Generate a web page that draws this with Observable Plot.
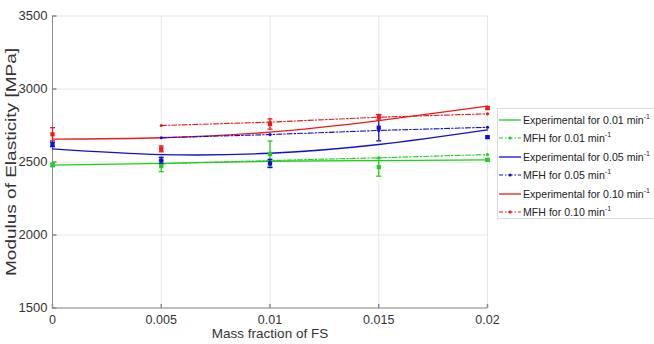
<!DOCTYPE html>
<html>
<head>
<meta charset="utf-8">
<script src="https://cdn.jsdelivr.net/npm/d3@7"></script>
<script src="https://cdn.jsdelivr.net/npm/@observablehq/plot@0.6"></script>
<style>
  html, body { margin: 0; padding: 0; background: #fff; }
  #wrap { position: relative; width: 654px; height: 344px; font-family: "Liberation Sans", Arial, sans-serif; }
  #legend { position: absolute; left: 497px; top: 108px; width: 170px; height: 111px;
            border: 1px solid #dcdcdc; background: #fff; box-sizing: border-box; }
  .row { position: absolute; left: 0; height: 18px; display: flex; align-items: center;
         font-size: 10.6px; color: #222; white-space: nowrap; }
  .row svg { display: block; margin-right: 1px; }
  .row sup { font-size: 7px; vertical-align: 5px; line-height: 0; }
</style>
</head>
<body>
<div id="wrap"></div>
<script>
// Mass fraction of fumed silica (FS)
const massFraction = [0, 0.005, 0.01, 0.015, 0.02];
const mfhFraction = [0.005, 0.01, 0.015, 0.02];

// Strain rates [min^-1]
const rates = ["0.01", "0.05", "0.10"];
const rateColors = ["#22cc22", "#1010d0", "#f01818"];

// Measured modulus (mean and half-width of the error bar) [MPa]
const expMean001 = [2480, 2472, 2555, 2465, 2515];
const expErr001  = [12, 38, 88, 62, 8];
const expMean005 = [2620, 2510, 2490, 2735, 2670];
const expErr005  = [15, 22, 28, 90, 8];
const expMean010 = [2690, 2590, 2760, 2805, 2870];
const expErr010  = [45, 20, 35, 20, 10];

// Smoothed experimental trend [MPa]
const trend001 = [2478, 2490, 2505, 2510, 2515];
const trend005 = [2590, 2551, 2560, 2620, 2720];
const trend010 = [2656, 2666, 2705, 2784, 2882];

// Mean-field homogenisation (MFH) prediction [MPa]
const mfh001 = [2488, 2510, 2529, 2551];
const mfh005 = [2666, 2688, 2716, 2738];
const mfh010 = [2750, 2773, 2807, 2830];

// Axis ticks
const xTicks = [0, 0.005, 0.01, 0.015, 0.02];
const xTickLabels = ["0", "0.005", "0.01", "0.015", "0.02"];
const yTicks = [1500, 2000, 2500, 3000, 3500];

// Build tidy tables
const expMeans = [expMean001, expMean005, expMean010];
const expErrs = [expErr001, expErr005, expErr010];
const trends = [trend001, trend005, trend010];
const mfhs = [mfh001, mfh005, mfh010];

const expRows = rates.flatMap((r, i) => massFraction.map((x, j) => ({
  rate: r, x, mean: expMeans[i][j], lo: expMeans[i][j] - expErrs[i][j], hi: expMeans[i][j] + expErrs[i][j]
})));
const trendRows = rates.flatMap((r, i) => massFraction.map((x, j) => ({rate: r, x, y: trends[i][j]})));
const mfhRows = rates.flatMap((r, i) => mfhFraction.map((x, j) => ({rate: r, x, y: mfhs[i][j]})));

const colorOf = r => rateColors[rates.indexOf(r)];

// horizontal cap for error bars
const capSymbol = { draw(ctx, size) { const r = Math.sqrt(size / Math.PI); ctx.moveTo(-r, 0); ctx.lineTo(r, 0); } };
// short inward tick marks
const vTick = { draw(ctx, size) { const r = Math.sqrt(size / Math.PI); ctx.moveTo(0, 0); ctx.lineTo(0, -r); } };
const hTick = { draw(ctx, size) { const r = Math.sqrt(size / Math.PI); ctx.moveTo(0, 0); ctx.lineTo(r, 0); } };

const chart = Plot.plot({
  width: 654,
  height: 344,
  marginLeft: 52,
  marginRight: 167,
  marginTop: 15.5,
  marginBottom: 36.5,
  style: { fontFamily: "'Liberation Sans', Arial, sans-serif", fontSize: "12.5px", color: "#333", background: "#fff" },
  x: { domain: [0, 0.02] },
  y: { domain: [1500, 3500] },
  marks: [
    Plot.frame({ stroke: "#e6e6e6" }),
    Plot.gridX(xTicks.slice(1), { stroke: "#e8e8e8", strokeOpacity: 1 }),
    Plot.gridY(yTicks.slice(1, -1), { stroke: "#e8e8e8", strokeOpacity: 1 }),
    Plot.ruleX([0], { stroke: "#8a8a8a" }),
    Plot.ruleY([1500], { stroke: "#8a8a8a" }),
    Plot.dot(xTicks, { x: d => d, frameAnchor: "bottom", symbol: vTick, r: 4, stroke: "#8a8a8a" }),
    Plot.dot(yTicks, { y: d => d, frameAnchor: "left", symbol: hTick, r: 4, stroke: "#8a8a8a" }),
    Plot.axisX(xTicks, { tickSize: 0, tickPadding: 7, tickFormat: (d, i) => xTickLabels[i], fill: "#333", fontSize: 12.5, label: null }),
    Plot.axisX({ ticks: [], label: "Mass fraction of FS", labelAnchor: "center", labelArrow: "none",
      labelOffset: 30, fontSize: 13.5, fill: "#333" }),
    Plot.axisY(yTicks, { tickSize: 0, tickPadding: 5, tickFormat: d => String(d), fill: "#333", fontSize: 13, label: null }),
    Plot.axisY({ ticks: [], label: "Modulus of Elasticity [MPa]", labelAnchor: "center", labelArrow: "none",
      labelOffset: 46, fontSize: 14, fill: "#333", ariaLabel: "y-title" }),

    // smoothed experimental trends
    Plot.line(trendRows, { x: "x", y: "y", z: "rate", stroke: d => colorOf(d.rate), strokeWidth: 1.3, curve: "natural" }),
    // MFH predictions
    Plot.line(mfhRows, { x: "x", y: "y", z: "rate", stroke: d => colorOf(d.rate), strokeWidth: 1.1, strokeDasharray: "5,2,1.5,2" }),
    Plot.dot(mfhRows, { x: "x", y: "y", fill: d => colorOf(d.rate), r: 1.6 }),

    // measured values with error bars
    Plot.ruleX(expRows, { x: "x", y1: "lo", y2: "hi", stroke: d => colorOf(d.rate), strokeWidth: 1.3 }),
    Plot.dot(expRows, { x: "x", y: "lo", symbol: capSymbol, r: 2.5, stroke: d => colorOf(d.rate), strokeWidth: 1.3 }),
    Plot.dot(expRows, { x: "x", y: "hi", symbol: capSymbol, r: 2.5, stroke: d => colorOf(d.rate), strokeWidth: 1.3 }),
    Plot.dot(expRows, { x: "x", y: "mean", symbol: "square", r: 2.4, fill: d => colorOf(d.rate) })
  ]
});

const wrap = document.getElementById("wrap");
wrap.appendChild(chart);

// stretch the vertical axis title along its reading direction
d3.select(chart).selectAll("text")
  .filter(function () { return this.textContent === "Modulus of Elasticity [MPa]"; })
  .attr("textLength", 228).attr("lengthAdjust", "spacingAndGlyphs");

// Legend
const legendLabels = rates.flatMap(r => [
  { text: "Experimental for " + r + " min", rate: r, kind: "exp" },
  { text: "MFH for " + r + " min", rate: r, kind: "mfh" }
]);
const legend = d3.select(wrap).append("div").attr("id", "legend");
legendLabels.forEach((d, i) => {
  const row = legend.append("div").attr("class", "row").style("top", (2 + i * 18.4) + "px");
  const s = row.append("svg").attr("width", 24).attr("height", 10);
  const c = colorOf(d.rate);
  if (d.kind === "exp") {
    s.append("line").attr("x1", 1).attr("x2", 23).attr("y1", 5).attr("y2", 5).attr("stroke", c).attr("stroke-width", 1.3);
  } else {
    s.append("line").attr("x1", 1).attr("x2", 23).attr("y1", 5).attr("y2", 5).attr("stroke", c)
      .attr("stroke-width", 1.1).attr("stroke-dasharray", "4,2,1.5,2");
    s.append("circle").attr("cx", 12).attr("cy", 5).attr("r", 1.6).attr("fill", c);
  }
  const t = row.append("span");
  t.append("span").text(d.text);
  t.append("sup").text("-1");
});
</script>
</body>
</html>
